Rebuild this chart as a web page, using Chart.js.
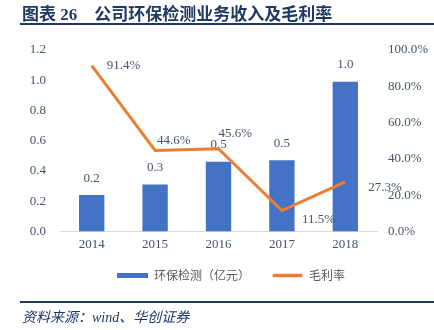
<!DOCTYPE html>
<html>
<head>
<meta charset="utf-8">
<script src="https://cdn.jsdelivr.net/npm/chart.js@4"></script>
<style>
  html, body { margin: 0; padding: 0; background: #fff; }
  #wrap { position: relative; width: 434px; height: 330px; overflow: hidden; }
  #chart { position: absolute; left: 0; top: 0; }
  .title { position: absolute; left: 22px; top: 0px; font: bold 17px "Liberation Serif", "Noto Sans CJK SC", serif; color: #1f3864; white-space: nowrap; }
  .title .name { margin-left: 17px; }
  .rule { position: absolute; left: 20px; width: 414px; height: 2px; background: #1f3864; }
  .source { position: absolute; left: 22px; top: 306px; font: italic 14px "Liberation Serif", "Noto Sans CJK SC", serif; color: #1f3864; white-space: nowrap; }
</style>
</head>
<body>
<div id="wrap">
  <canvas id="chart" width="434" height="330"></canvas>
  <div class="title">图表 26<span class="name">公司环保检测业务收入及毛利率</span></div>
  <div class="rule" style="top:23px"></div>
  <div class="rule" style="top:301px"></div>
  <div class="source">资料来源：wind、华创证券</div>
</div>
<script>
const years = ['2014', '2015', '2016', '2017', '2018'];
const revenue = [0.24, 0.31, 0.46, 0.47, 0.99];
const grossMargin = [0.914, 0.446, 0.456, 0.115, 0.273];
const leftTicks = [0, 0.2, 0.4, 0.6, 0.8, 1.0, 1.2];
const rightTicks = [0, 0.2, 0.4, 0.6, 0.8, 1.0];

const BLUE = '#4472c4';
const ORANGE = '#ed7d31';
const TEXT = '#44546a';

// label offsets for the margin line (left edge / middle of text, from the point)
const marginLabelShift = [[15, 0], [2, -10], [0, -15], [20, 9], [23, 6]];

const labelPlugin = {
    id: 'labels',
    afterLayout: (chart) => {
        // legend sits a bit right of centre and tighter under the axis in the original
        const lg = chart.legend;
        lg.left += 14;
        lg.right += 14;
        lg.top -= 13;
        lg.bottom -= 13;
    },
    afterDatasetDraw: (chart, args) => {
        if (args.meta.type !== 'bar') return;
        const ctx = chart.ctx;
        ctx.save();
        ctx.font = '13px "Liberation Serif", serif';
        ctx.fillStyle = TEXT;
        ctx.textAlign = 'center';
        ctx.textBaseline = 'middle';
        args.meta.data.forEach((bar, i) => {
            ctx.fillText(revenue[i].toFixed(1), bar.x, bar.y - 17);
        });
        ctx.restore();
    },
    afterDatasetsDraw: (chart) => {
        const meta = chart.getDatasetMeta(1);
        const ctx = chart.ctx;
        ctx.save();
        ctx.font = '13px "Liberation Serif", serif';
        ctx.fillStyle = TEXT;
        ctx.textAlign = 'left';
        ctx.textBaseline = 'middle';
        meta.data.forEach((pt, i) => {
            const [dx, dy] = marginLabelShift[i];
            ctx.fillText((grossMargin[i] * 100).toFixed(1) + '%', pt.x + dx, pt.y + dy);
        });
        ctx.restore();
    }
};

new Chart(document.getElementById('chart'), {
    type: 'bar',
    data: {
        labels: years,
        datasets: [{
            label: '环保检测（亿元）',
            data: revenue,
            backgroundColor: BLUE,
            borderWidth: 0,
            barPercentage: 0.4,
            categoryPercentage: 1.0,
            yAxisID: 'y',
            order: 2
        }, {
            type: 'line',
            label: '毛利率',
            data: grossMargin,
            borderColor: ORANGE,
            backgroundColor: ORANGE,
            borderWidth: 3,
            pointRadius: 0,
            tension: 0,
            yAxisID: 'y1',
            order: 1
        }]
    },
    options: {
        responsive: false,
        animation: false,
        events: [],
        layout: { padding: { top: 50, left: 0, right: 0, bottom: 25.6 } },
        scales: {
            x: {
                grid: { display: false, drawTicks: false },
                border: { display: true, color: '#d9d9d9', width: 1 },
                ticks: { color: TEXT, font: { family: '"Liberation Serif", serif', size: 13 }, padding: 5 },
                afterFit: (s) => { s.height = 29; }
            },
            y: {
                position: 'left',
                min: 0, max: 1.2,
                grid: { display: false, drawTicks: false },
                border: { display: false },
                afterBuildTicks: (s) => { s.ticks = leftTicks.map(v => ({ value: v })); },
                ticks: { color: TEXT, font: { family: '"Liberation Serif", serif', size: 13 }, padding: 14,
                    callback: (v) => Number(v).toFixed(1) },
                afterFit: (s) => { s.width = 60; }
            },
            y1: {
                position: 'right',
                min: 0, max: 1,
                grid: { display: false, drawTicks: false },
                border: { display: false },
                afterBuildTicks: (s) => { s.ticks = rightTicks.map(v => ({ value: v })); },
                ticks: { color: TEXT, font: { family: '"Liberation Serif", serif', size: 13 }, padding: 11,
                    callback: (v) => (Number(v) * 100).toFixed(1) + '%' },
                afterFit: (s) => { s.width = 57; }
            }
        },
        plugins: {
            tooltip: { enabled: false },
            legend: {
                position: 'bottom',
                labels: {
                    color: '#595959',
                    font: { family: '"Noto Sans CJK SC", sans-serif', size: 12 },
                    boxWidth: 31,
                    boxHeight: 5,
                    padding: 22,
                    sort: (a, b) => a.datasetIndex - b.datasetIndex,
                    generateLabels: (chart) => chart.data.datasets.map((ds, i) => ({
                        text: ds.label,
                        fillStyle: ds.type === 'line' ? ORANGE : BLUE,
                        strokeStyle: '#ffffff',
                        lineWidth: ds.type === 'line' ? 1.5 : 0,
                        fontColor: '#595959',
                        datasetIndex: i
                    }))
                }
            }
        }
    },
    plugins: [labelPlugin]
});
</script>
</body>
</html>
